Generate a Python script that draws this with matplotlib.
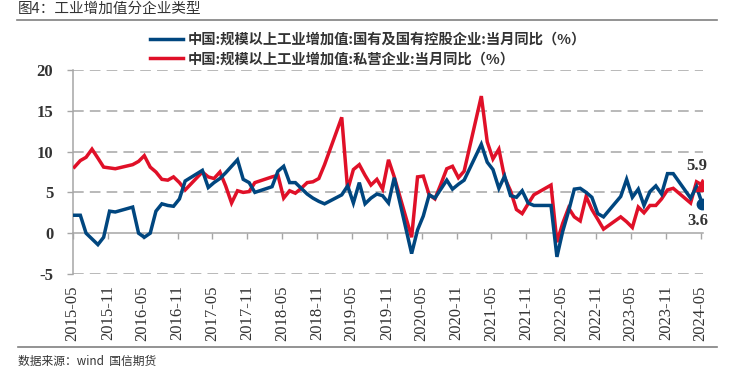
import numpy as np
import pandas as pd
import matplotlib
matplotlib.use('Agg')
import matplotlib.pyplot as plt
from matplotlib.lines import Line2D

nan = np.nan
months = pd.date_range('2015-05-01', '2024-05-01', freq='MS')

soe = [2.2, 2.2, 0.0, -0.7, -1.4, -0.5, 2.7, 2.6,
       nan, nan, 3.2, 0.0, -0.5, 0.0, 2.7, 3.6, 3.4, 3.3, 4.2, 6.4,
       nan, nan, 7.7, 5.6, 6.2, 6.7, 7.4, 8.2, 9.0, 6.6, 6.2, 5.0,
       nan, nan, 5.7, 7.6, 8.2, 6.2, 6.2, 5.5, 4.8, 4.3, 3.9, 3.6,
       nan, nan, 4.7, 5.8, 3.7, 6.2, 3.6, 4.3, 4.8, 4.6, 3.7, 6.8,
       nan, nan, -2.5, 0.4, 2.1, 4.7, 4.3, 5.4, 6.5, 5.4, 6.0, 6.5,
       nan, nan, 10.9, 8.7, 7.8, 5.5, 7.0, 4.6, 4.4, 5.2, 3.7, 3.4,
       nan, nan, 3.4, -2.9, 0.2, 2.7, 5.4, 5.5, 5.0, 4.4, 2.4, 2.0,
       nan, nan, 4.5, 6.6, 4.4, 5.4, 3.4, 5.1, 5.8, 4.8, 7.3, 7.3,
       nan, nan, 4.3, 5.7, 3.6]

private = [8.1, 8.9, 9.3, 10.3, 9.2, 8.1, 8.0, 7.9,
           nan, nan, 8.4, 8.8, 9.5, 8.1, 7.5, 6.6, 6.5, 6.9, 6.2, 5.3,
           nan, nan, 7.5, 6.9, 6.7, 7.5, 5.8, 3.7, 5.2, 5.0, 5.1, 6.2,
           nan, nan, 6.9, 7.1, 4.3, 5.2, 4.9, 5.5, 6.2, 6.3, 6.7, 8.4,
           nan, nan, 14.2, 5.3, 7.8, 8.4, 7.1, 5.9, 6.6, 5.4, 9.0, 6.9,
           nan, nan, -0.5, 6.9, 7.0, 4.7, 4.2, 6.0, 7.9, 8.2, 6.8, 7.6,
           nan, nan, 16.8, 11.2, 9.1, 10.3, 6.8, 5.2, 2.9, 2.4, 3.6, 4.7,
           nan, nan, 5.9, -1.1, 1.2, 3.1, 2.0, 1.5, 4.5, 2.9, 1.7, 0.5,
           nan, nan, 2.0, 1.4, 0.7, 3.2, 2.5, 3.4, 3.4, 4.2, 5.3, 5.5,
           nan, nan, 3.7, 6.3, 5.9]

label_soe = '中国:规模以上工业增加值:国有及国有控股企业:当月同比（%）'
label_private = '中国:规模以上工业增加值:私营企业:当月同比（%）'
title = '图4：工业增加值分企业类型'
source = '数据来源：wind  国信期货'
yticks = [-5, 0, 5, 10, 15, 20]
xtick_dates = pd.date_range('2015-05-01', '2024-05-01', freq='6MS')

BLUE = '#00467F'
RED = '#E01028'
GRID = '#A6A6A6'
TXT = '#333333'
CJK = ['Noto Sans CJK SC', 'DejaVu Sans']
SERIF = ['Liberation Serif', 'DejaVu Serif']

x = months + pd.Timedelta(days=9)
s_soe = pd.Series(soe, index=x).dropna()
s_pri = pd.Series(private, index=x).dropna()

fig = plt.figure(figsize=(7.4, 3.73), dpi=100)
ax = fig.add_axes([72.7 / 740, 1 - 274 / 373, (703 - 72.7) / 740, (274 - 70) / 373])

ax.plot(s_soe.index, s_soe.values, color=BLUE, lw=2.5, label=label_soe, solid_joinstyle='miter', zorder=4)
ax.plot(s_pri.index, s_pri.values, color=RED, lw=2.5, label=label_private, solid_joinstyle='miter', zorder=3)
ax.plot(s_soe.index[-1], s_soe.values[-1], 'o', color=BLUE, ms=7.5, zorder=5)
ax.plot(s_pri.index[-1], s_pri.values[-1], '^', color=RED, ms=8, zorder=5)
ax.annotate(f'{s_pri.values[-1]:.1f}', (s_pri.index[-1], s_pri.values[-1]), xytext=(-4, 14),
            textcoords='offset points', ha='center', va='center', fontsize=12,
            family=SERIF, fontweight='bold', color=TXT)
ax.annotate(f'{s_soe.values[-1]:.1f}', (s_soe.index[-1], s_soe.values[-1]), xytext=(-3, -12.5),
            textcoords='offset points', ha='center', va='center', fontsize=12,
            family=SERIF, fontweight='bold', color=TXT)

ax.set_ylim(-5, 20)
ax.set_xlim(pd.Timestamp('2015-05-01'), pd.Timestamp('2024-05-14'))
ax.set_yticks(yticks)
ax.set_yticklabels([str(v) for v in yticks])
ax.set_xticks(xtick_dates)
ax.set_xticklabels([d.strftime('%Y-%m') for d in xtick_dates])

for sp in ['top', 'right']:
    ax.spines[sp].set_visible(False)
ax.spines['left'].set_color(GRID)
ax.spines['left'].set_linewidth(1.1)
ax.spines['bottom'].set_position(('data', 0))
ax.spines['bottom'].set_color(GRID)
ax.spines['bottom'].set_linewidth(1.1)
ax.tick_params(axis='x', direction='out', length=4, width=1, color=GRID, pad=33.5,
               labelrotation=90, labelsize=12, labelcolor=TXT)
ax.tick_params(axis='y', direction='out', length=4, width=1, color=GRID, pad=10,
               labelsize=12, labelcolor=TXT)
for t in ax.get_xticklabels():
    t.set_family(SERIF)
for t in ax.get_yticklabels():
    t.set_family(SERIF)
    t.set_fontweight('bold')

for v in yticks:
    if v != 0:
        ax.axhline(v, color=GRID, lw=1.1, ls=(0, (7, 4)), zorder=1)

leg = fig.legend(loc='upper left', bbox_to_anchor=(150 / 740, 1 - 33 / 373), frameon=False,
                 handlelength=2.3, handletextpad=0.35, labelspacing=0.36, borderpad=0,
                 borderaxespad=0, prop={'family': CJK, 'size': 10.3, 'weight': 'bold'})
for t in leg.get_texts():
    t.set_color(TXT)

fig.text(18 / 740, 1 - 9 / 373, title, family=CJK, fontsize=10.5, color=TXT, va='center', ha='left')
fig.text(18 / 740, 1 - 361 / 373, source, family=CJK, fontsize=8.5, color=TXT, va='center', ha='left')
fig.add_artist(Line2D([17 / 740, 717 / 740], [1 - 20 / 373, 1 - 20 / 373], color='#808080', lw=1.2,
                      transform=fig.transFigure))
fig.add_artist(Line2D([18 / 740, 717 / 740], [1 - 347 / 373, 1 - 347 / 373], color='#808080', lw=1.2,
                      transform=fig.transFigure))

fig.savefig('out.png', dpi=100, facecolor='white')
